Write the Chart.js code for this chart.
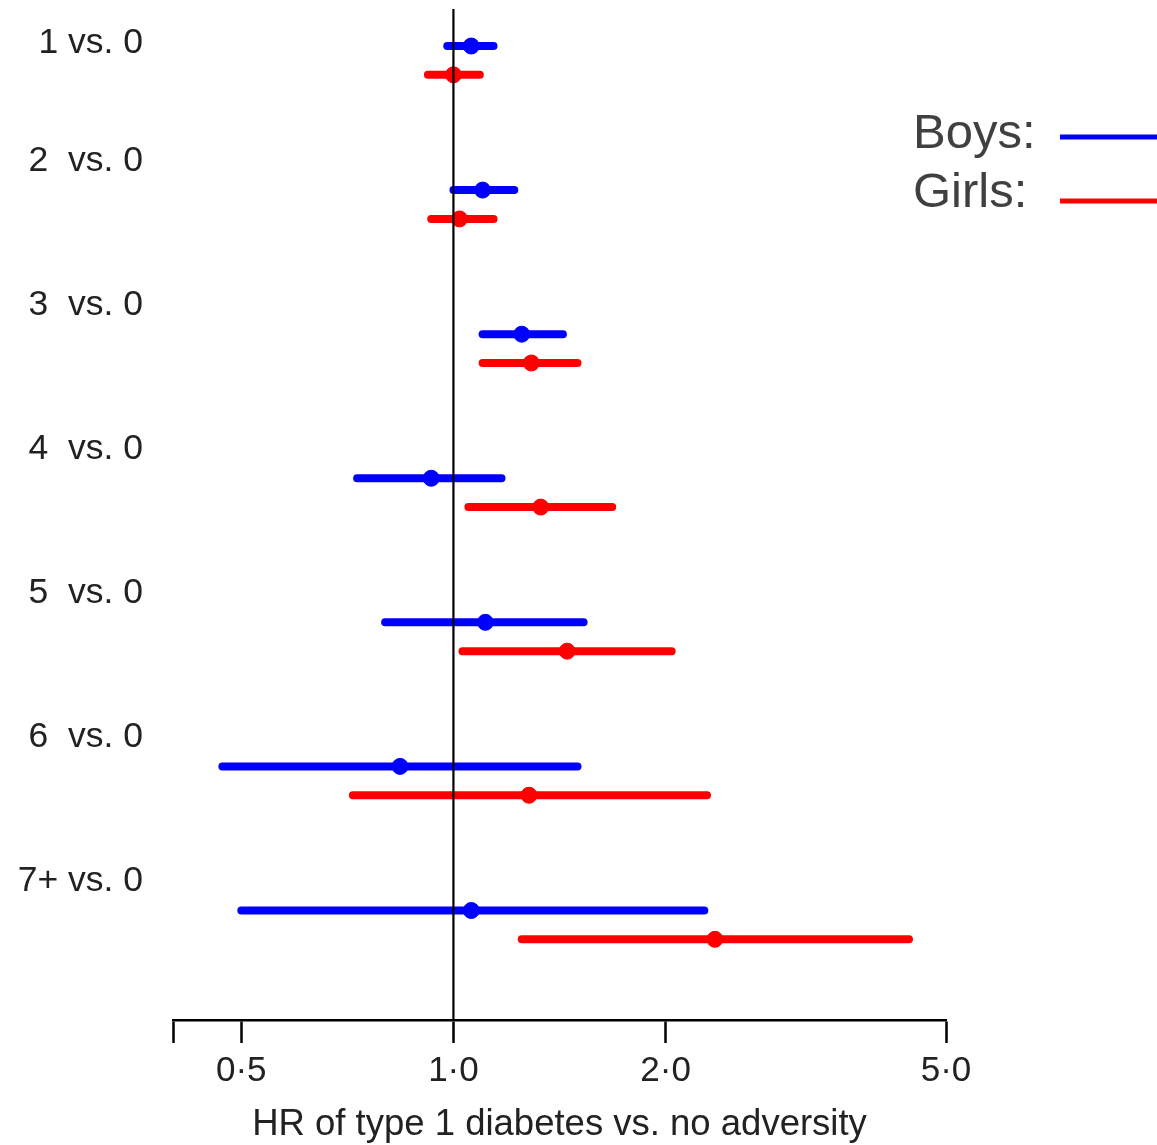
<!DOCTYPE html>
<html>
<head>
<meta charset="utf-8">
<script src="https://cdn.jsdelivr.net/npm/chart.js@4/dist/chart.umd.min.js"></script>
<style>
html,body{margin:0;padding:0;background:#fff;}
canvas{display:block;}
</style>
</head>
<body>
<canvas id="c" width="1157" height="1145"></canvas>
<script>
// ---- data ----
const categories = ['1 vs. 0', '2  vs. 0', '3  vs. 0', '4  vs. 0', '5  vs. 0', '6  vs. 0', '7+ vs. 0'];
const boysHR  = [1.06, 1.10, 1.25, 0.93, 1.11, 0.84, 1.06];
const boysLo  = [0.98, 1.00, 1.10, 0.73, 0.80, 0.47, 0.50];
const boysHi  = [1.14, 1.22, 1.43, 1.17, 1.53, 1.50, 2.27];
const girlsHR = [1.00, 1.02, 1.29, 1.33, 1.45, 1.28, 2.35];
const girlsLo = [0.92, 0.93, 1.10, 1.05, 1.03, 0.72, 1.25];
const girlsHi = [1.09, 1.14, 1.50, 1.68, 2.04, 2.29, 4.43];
const xTicks = [0.4, 0.5, 1, 2, 5];
const xTickLabels = ['', '0·5', '1·0', '2·0', '5·0'];
const seriesNames = ['Boys:', 'Girls:'];

// ---- layout constants ----
const girlsOffset = 0.2;
const labelRows = [-0.02, 0.8, 1.8, 2.8, 3.8, 4.8, 5.8];
const yMin = -0.257, yMax = 6.76;
const BLUE = '#0000ff', RED = '#ff0000';

const datasets = [];
// reference line at HR = 1
datasets.push({
  type: 'line',
  data: [{x: 1, y: yMin}, {x: 1, y: yMax}],
  borderColor: '#000', borderWidth: 2.2, pointRadius: 0, order: 0
});
function addSeries(lo, hi, hr, color, off) {
  categories.forEach((c, i) => {
    datasets.push({
      type: 'line',
      data: [{x: lo[i], y: i + off}, {x: hi[i], y: i + off}],
      borderColor: color, borderWidth: 8, borderCapStyle: 'round',
      pointRadius: 0, order: 2
    });
  });
  datasets.push({
    type: 'scatter',
    data: hr.map((v, i) => ({x: v, y: i + off})),
    backgroundColor: color, borderColor: color,
    pointRadius: 8, pointHoverRadius: 8, order: 1
  });
}
addSeries(boysLo, boysHi, boysHR, BLUE, 0);
addSeries(girlsLo, girlsHi, girlsHR, RED, girlsOffset);

const legendPlugin = {
  id: 'sideLegend',
  afterDraw(chart) {
    const ctx = chart.ctx;
    ctx.save();
    ctx.font = '49px "Liberation Sans", Arial, sans-serif';
    ctx.fillStyle = '#404040';
    ctx.textBaseline = 'middle';
    ctx.textAlign = 'left';
    const rows = [{t: seriesNames[0], ty: 134, ly: 137, c: BLUE},
                  {t: seriesNames[1], ty: 193, ly: 201, c: RED}];
    rows.forEach(r => {
      ctx.fillText(r.t, 913, r.ty);
      ctx.beginPath();
      ctx.strokeStyle = r.c;
      ctx.lineWidth = 5;
      ctx.moveTo(1060, r.ly);
      ctx.lineTo(1160, r.ly);
      ctx.stroke();
    });
    ctx.restore();
  }
};

new Chart(document.getElementById('c'), {
  data: {datasets},
  plugins: [legendPlugin],
  options: {
    responsive: false,
    animation: false,
    events: [],
    layout: {padding: {top: 8, right: 211, left: 0, bottom: 0}},
    plugins: {legend: {display: false}, tooltip: {enabled: false}},
    scales: {
      x: {
        type: 'logarithmic',
        min: 0.4, max: 5,
        afterBuildTicks: s => { s.ticks = xTicks.map(v => ({value: v})); },
        afterFit: s => { s.height = 125; s.paddingLeft = 0; s.paddingRight = 0; },
        ticks: {
          autoSkip: false, maxRotation: 0,
          callback: (v, i) => xTickLabels[i],
          font: {family: '"Liberation Sans", Arial, sans-serif', size: 35},
          color: '#222', padding: 7
        },
        grid: {display: true, drawOnChartArea: false, drawTicks: true,
               tickLength: 23, tickColor: '#000', tickWidth: 2.5},
        border: {display: true, color: '#000', width: 2.5},
        title: {
          display: true, text: 'HR of type 1 diabetes vs. no adversity',
          font: {family: '"Liberation Sans", Arial, sans-serif', size: 36.5},
          color: '#222', padding: {top: 0, bottom: -2}
        }
      },
      y: {
        type: 'linear', reverse: true, min: yMin, max: yMax,
        afterBuildTicks: s => { s.ticks = labelRows.map(v => ({value: v})); },
        afterFit: s => { s.width = 173; s.paddingTop = 0; s.paddingBottom = 0; },
        ticks: {
          autoSkip: false,
          callback: (v, i) => categories[i],
          font: {family: '"Liberation Sans", Arial, sans-serif', size: 35.5},
          color: '#222', padding: 30
        },
        grid: {display: false, drawTicks: false},
        border: {display: false}
      }
    }
  }
});
</script>
</body>
</html>
